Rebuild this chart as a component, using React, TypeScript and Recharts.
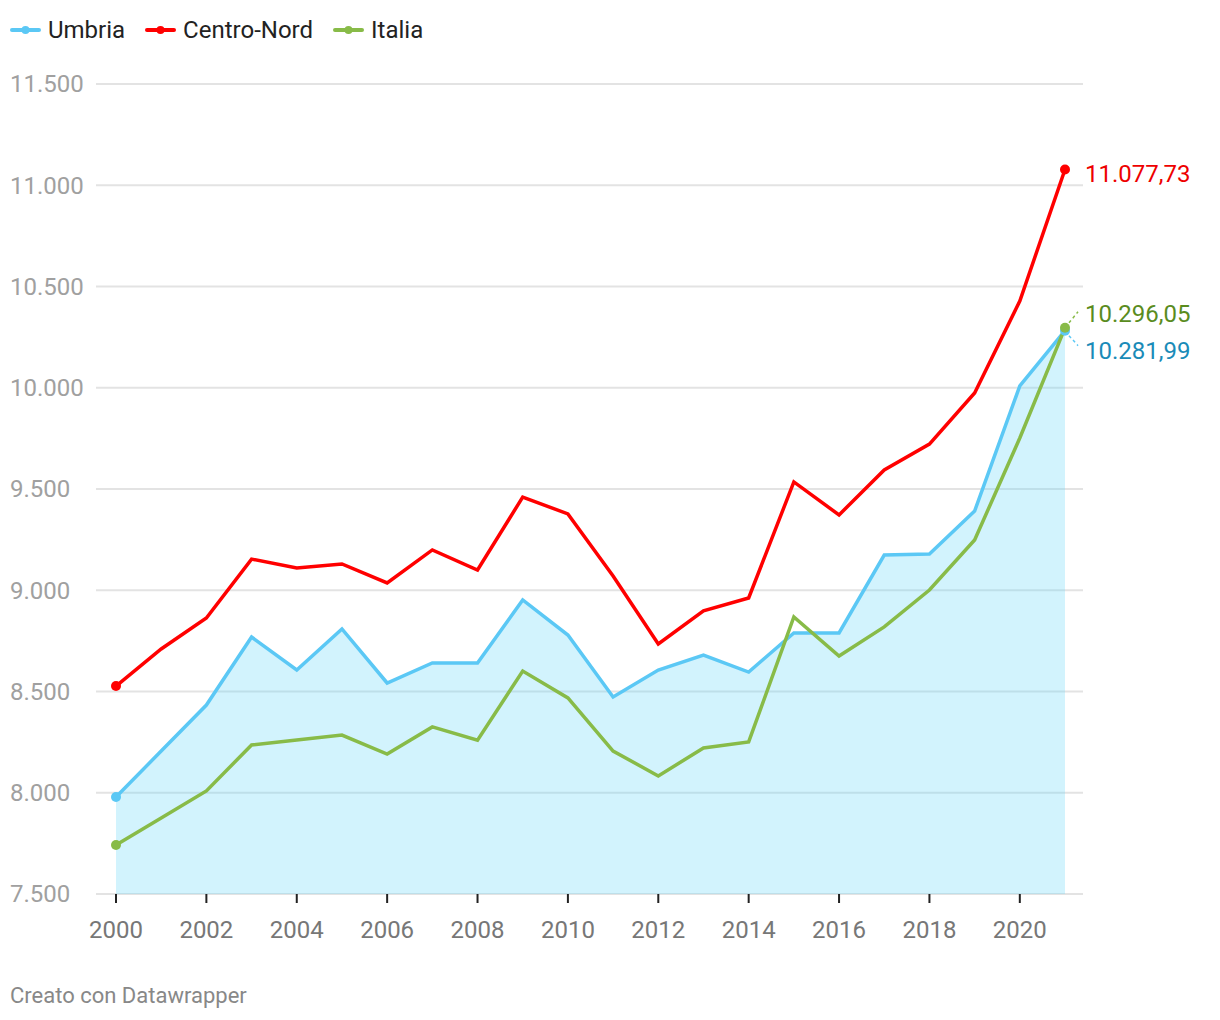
import { ComposedChart, Area, Line, XAxis, YAxis, CartesianGrid, LabelList } from 'recharts';

const years = [2000, 2001, 2002, 2003, 2004, 2005, 2006, 2007, 2008, 2009, 2010, 2011, 2012, 2013, 2014, 2015, 2016, 2017, 2018, 2019, 2020, 2021];
const umbria = [7979, 8206, 8433, 8769, 8606, 8809, 8542, 8641, 8641, 8952, 8779, 8473, 8606, 8680, 8596, 8789, 8789, 9174, 9179, 9391, 10009, 10281.99];
const centroNord = [8527, 8710, 8863, 9154, 9110, 9130, 9036, 9199, 9100, 9460, 9377, 9070, 8735, 8898, 8962, 9535, 9372, 9594, 9722, 9974, 10428, 11077.73];
const italia = [7742, 7875, 8009, 8236, 8260, 8285, 8191, 8325, 8260, 8601, 8468, 8206, 8083, 8221, 8251, 8868, 8675, 8819, 9001, 9248, 9752, 10296.05];
const yTicks = [7500, 8000, 8500, 9000, 9500, 10000, 10500, 11000, 11500];
const xTicks = [2000, 2002, 2004, 2006, 2008, 2010, 2012, 2014, 2016, 2018, 2020];

const BLUE = '#5bc8f5';
const RED = '#ff0000';
const GREEN = '#88bb48';
const FONT = 'Roboto, sans-serif';

const data = years.map((year, i) => ({
  year,
  umbria: umbria[i],
  centroNord: centroNord[i],
  italia: italia[i],
}));

const legend = [
  { name: 'Umbria', color: BLUE },
  { name: 'Centro-Nord', color: RED },
  { name: 'Italia', color: GREEN },
];

function groupThousands(s: string): string {
  return s.replace(/\B(?=(\d{3})+(?!\d))/g, '.');
}

function fmtInt(n: number): string {
  return groupThousands(String(Math.round(n)));
}

function fmtDec(n: number): string {
  const [int, dec] = n.toFixed(2).split('.');
  return `${groupThousands(int)},${dec}`;
}

const YTick = (props: any) => {
  const { y, payload } = props;
  return (
    <text x={10} y={y} dy="0.35em" textAnchor="start" fill="#a0a0a0" fontSize={24} fontFamily={FONT}>
      {fmtInt(payload.value)}
    </text>
  );
};

// dot only on first and last point, like datawrapper
function endDots(color: string) {
  return (props: any) => {
    const { cx, cy, index } = props;
    if (index !== 0 && index !== years.length - 1) return <g key={`d-${index}`} />;
    return <circle key={`d-${index}`} cx={cx} cy={cy} r={5} fill={color} />;
  };
}

function endLabel(color: string, textColor: string, shift: number, connector: boolean) {
  return (props: any) => {
    const { x, y, index, value } = props;
    if (index !== years.length - 1) return null;
    const tx = x + 20;
    const ty = y + shift;
    const s = Math.sign(shift);
    return (
      <g>
        {connector && (
          <line
            x1={x + 4}
            y1={y + s * 5}
            x2={x + 13}
            y2={ty + (shift < 0 ? -2 : -5)}
            stroke={color}
            strokeWidth={1.5}
            strokeDasharray="3 3"
          />
        )}
        <text x={tx} y={ty} dy="0.35em" fill={textColor} fontSize={24} fontFamily={FONT}>
          {fmtDec(value)}
        </text>
      </g>
    );
  };
}

export default function App() {
  return (
    <div style={{ position: 'absolute', left: 0, top: 0, width: 1220, height: 1020, fontFamily: FONT, background: '#fff' }}>
      <div style={{ position: 'absolute', top: 15, left: 10, display: 'flex', alignItems: 'center', gap: 20 }}>
        {legend.map((item) => (
          <div key={item.name} style={{ display: 'flex', alignItems: 'center' }}>
            <svg width={31} height={10}>
              <line x1={2} y1={5} x2={29} y2={5} stroke={item.color} strokeWidth={4} strokeLinecap="round" />
              <circle cx={15.5} cy={5} r={4} fill={item.color} />
            </svg>
            <span style={{ marginLeft: 7, fontSize: 24, lineHeight: '30px', color: '#222' }}>{item.name}</span>
          </div>
        ))}
      </div>

      <div style={{ position: 'absolute', top: 0, left: 0 }}>
        <ComposedChart width={1220} height={1000} data={data} margin={{ top: 84, right: 137, bottom: 46, left: 10 }}>
          <CartesianGrid vertical={false} stroke="#e3e3e3" strokeWidth={2} />
          <XAxis
            dataKey="year"
            type="number"
            domain={[2000, 2021]}
            ticks={xTicks}
            padding={{ left: 20, right: 18 }}
            height={60}
            axisLine={false}
            tickLine={{ stroke: '#222', strokeWidth: 2 }}
            tickSize={9}
            tickMargin={18}
            tick={{ fill: '#777', fontSize: 24, fontFamily: FONT }}
            interval={0}
          />
          <YAxis
            type="number"
            domain={[7500, 11500]}
            ticks={yTicks}
            width={86}
            axisLine={false}
            tickLine={false}
            tick={<YTick />}
            interval={0}
          />
          <Area
            type="linear"
            dataKey="umbria"
            stroke={BLUE}
            strokeWidth={3.5}
            fill="#5fd3f7"
            fillOpacity={0.28}
            dot={endDots(BLUE)}
            activeDot={false}
            isAnimationActive={false}
          >
            <LabelList dataKey="umbria" content={endLabel(BLUE, '#1a8bb8', 20, true)} />
          </Area>
          <Line
            type="linear"
            dataKey="centroNord"
            stroke={RED}
            strokeWidth={3.5}
            dot={endDots(RED)}
            activeDot={false}
            isAnimationActive={false}
          >
            <LabelList dataKey="centroNord" content={endLabel(RED, '#ee0000', 4, false)} />
          </Line>
          <Line
            type="linear"
            dataKey="italia"
            stroke={GREEN}
            strokeWidth={3.5}
            dot={endDots(GREEN)}
            activeDot={false}
            isAnimationActive={false}
          >
            <LabelList dataKey="italia" content={endLabel(GREEN, '#5a8c1e', -14, true)} />
          </Line>
        </ComposedChart>
      </div>

      <div style={{ position: 'absolute', top: 983, left: 10, fontSize: 22, lineHeight: '26px', color: '#888' }}>
        Creato con Datawrapper
      </div>
    </div>
  );
}
